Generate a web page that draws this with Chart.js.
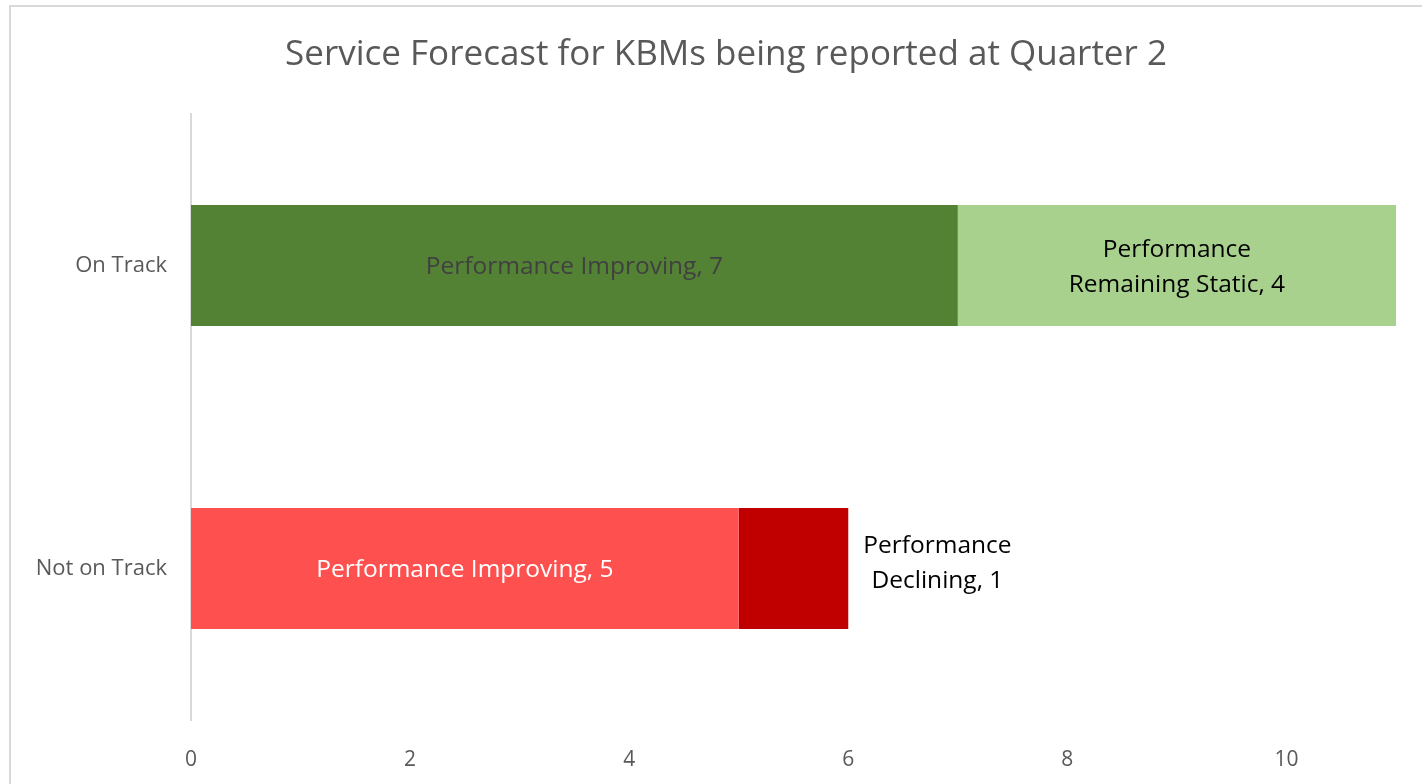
<!DOCTYPE html>
<html lang="en">
<head>
    <meta charset="UTF-8">
    <title>Service Forecast for KBMs</title>
    <script src="https://cdn.jsdelivr.net/npm/chart.js"></script>
    <style>
        html, body { margin: 0; padding: 0; background: #fff; overflow: hidden; }
        #frame {
            position: absolute; left: 9px; top: 5px; width: 1500px; height: 900px;
            border-left: 2px solid #d9d9d9; border-top: 2px solid #d9d9d9;
        }
        #wrap { position: absolute; left: 0; top: 0; width: 1422px; height: 784px; }
    </style>
</head>
<body>
    <div id="frame"></div>
    <div id="wrap"><canvas id="forecastChart"></canvas></div>

    <script>
        const chartTitle = 'Service Forecast for KBMs being reported at Quarter 2';
        const categories = ['On Track', 'Not on Track'];
        const improving = [7, 5];
        const remainingStatic = [4, null];
        const declining = [null, 1];
        const xMax = 11;
        const xStep = 2;

        const FONT = '"Open Sans", "Noto Sans", sans-serif';

        // draws the title and the data labels (no datalabels plugin offline)
        const labelPlugin = {
            id: 'barLabels',
            afterDraw(chart) {
                const ctx = chart.ctx;
                ctx.save();
                ctx.fillStyle = '#595959';
                ctx.font = '35px ' + FONT;
                ctx.textAlign = 'center';
                ctx.textBaseline = 'middle';
                ctx.fillText(chartTitle, 726, 55);

                ctx.font = '24.5px ' + FONT;
                const lineH = 35;
                chart.data.datasets.forEach((ds, i) => {
                    chart.getDatasetMeta(i).data.forEach((bar, j) => {
                        const v = ds.data[j];
                        if (v == null) return;
                        const words = ds.label.split(' ');
                        const lines = ds.wrap
                            ? [words[0], words.slice(1).join(' ') + ', ' + v]
                            : [ds.label + ', ' + v];
                        const w = Math.max(...lines.map(l => ctx.measureText(l).width));
                        let x = (bar.x + bar.base) / 2;
                        let dy = 2;
                        if (ds.outside) { x = bar.x + 15 + w / 2; dy = -5; }
                        ctx.fillStyle = ds.labelColor[j];
                        lines.forEach((l, k) => {
                            ctx.fillText(l, x, bar.y + dy + (k - (lines.length - 1) / 2) * lineH);
                        });
                    });
                });
                ctx.restore();
            }
        };

        const ctx = document.getElementById('forecastChart').getContext('2d');
        const forecastChart = new Chart(ctx, {
            type: 'bar',
            data: {
                labels: categories,
                datasets: [
                    {
                        label: 'Performance Improving',
                        data: improving,
                        backgroundColor: ['#548235', '#ff5050'],
                        labelColor: ['#404040', '#ffffff'],
                    },
                    {
                        label: 'Performance Remaining Static',
                        data: remainingStatic,
                        backgroundColor: '#a9d18e',
                        labelColor: ['#000000', '#000000'],
                        wrap: true,
                    },
                    {
                        label: 'Performance Declining',
                        data: declining,
                        backgroundColor: '#c00000',
                        labelColor: ['#000000', '#000000'],
                        wrap: true,
                        outside: true,
                    },
                ],
            },
            options: {
                indexAxis: 'y',
                responsive: true,
                maintainAspectRatio: false,
                animation: false,
                categoryPercentage: 1,
                barPercentage: 0.4,
                layout: { padding: { top: 114, right: 26, left: 0, bottom: 0 } },
                plugins: {
                    legend: { display: false },
                    tooltip: { enabled: false },
                },
                scales: {
                    x: {
                        stacked: true,
                        min: 0,
                        max: xMax,
                        grid: { display: false },
                        border: { display: false },
                        ticks: {
                            stepSize: xStep,
                            includeBounds: false,
                            color: '#595959',
                            padding: 19,
                            font: { family: FONT, size: 21 },
                        },
                        afterFit(axis) { axis.height = 64; },
                    },
                    y: {
                        stacked: true,
                        grid: { drawOnChartArea: false, drawTicks: false },
                        border: { display: true, color: '#d9d9d9', width: 2 },
                        ticks: {
                            color: '#595959',
                            padding: 24,
                            font: { family: FONT, size: 22 },
                        },
                        afterFit(axis) { axis.width = 191; },
                    },
                },
            },
            plugins: [labelPlugin],
        });
    </script>
</body>
</html>
